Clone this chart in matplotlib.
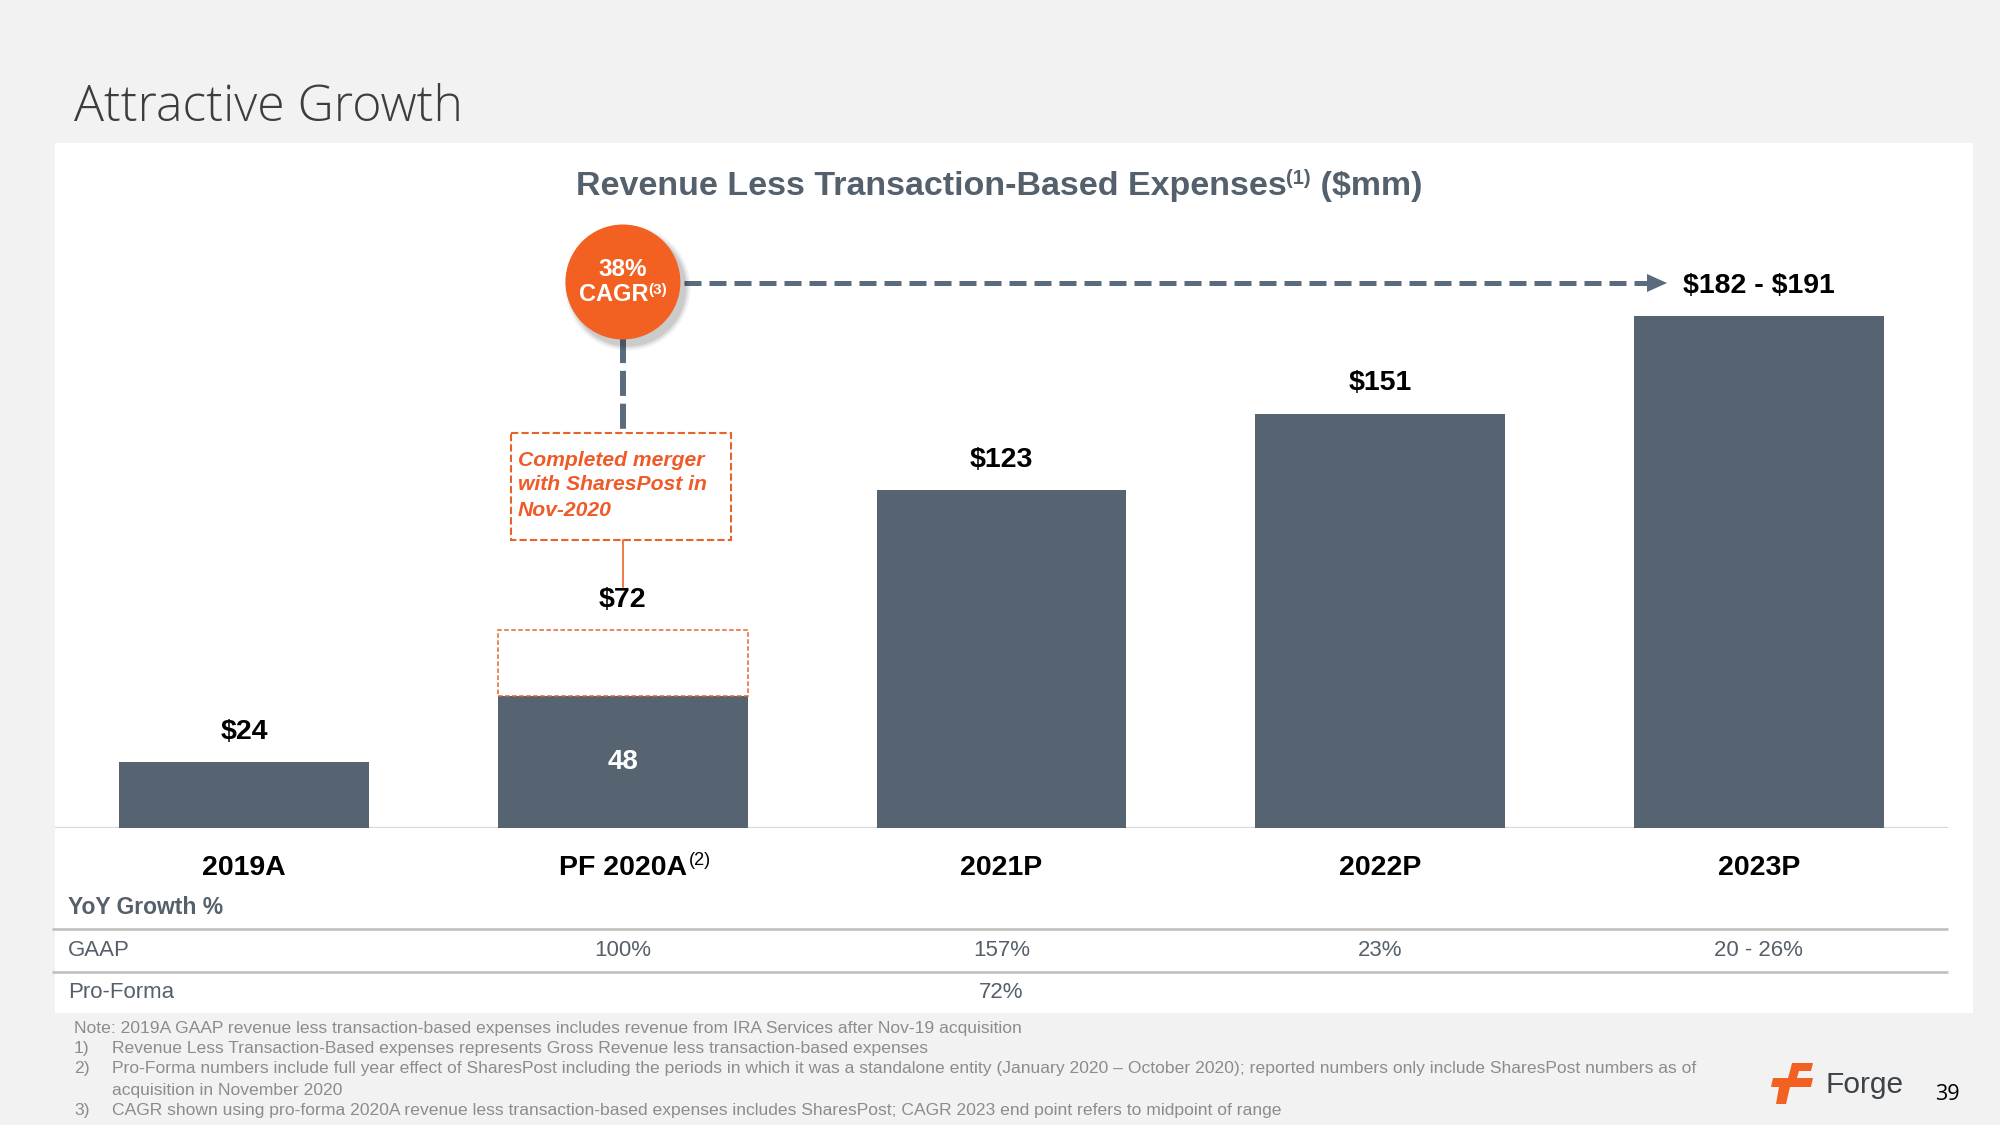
import matplotlib
matplotlib.use('Agg')
import matplotlib.pyplot as plt
from matplotlib.patches import Rectangle, Circle, Polygon

# ---------------- data ----------------
categories = ['2019A', 'PF 2020A', '2021P', '2022P', '2023P']
category_sup = ['', '(2)', '', '', '']
base_values = [24, 48, 123, 151, 186.5]      # 2023P drawn at midpoint of $182 - $191
sharespost_add = [0, 24, 0, 0, 0]            # PF 2020A: 48 + 24 = 72
value_labels = ['$24', '$72', '$123', '$151', '$182 - $191']
inner_labels = ['', '48', '', '', '']
gaap_growth = ['', '100%', '157%', '23%', '20 - 26%']
proforma_growth = ['', '', '72%', '', '']
cagr_label = '38%'
footnotes = [
    ('', 'Note: 2019A GAAP revenue less transaction-based expenses includes revenue from IRA Services after Nov-19 acquisition'),
    ('1)', 'Revenue Less Transaction-Based expenses represents Gross Revenue less transaction-based expenses'),
    ('2)', 'Pro-Forma numbers include full year effect of SharesPost including the periods in which it was a standalone entity (January 2020 \u2013 October 2020); reported numbers only include SharesPost numbers as of'),
    ('', 'acquisition in November 2020'),
    ('3)', 'CAGR shown using pro-forma 2020A revenue less transaction-based expenses includes SharesPost; CAGR 2023 end point refers to midpoint of range'),
]

# ---------------- style ----------------
FONT = 'Liberation Sans'
BAR = '#566471'
ORANGE = '#f26122'
BOX_ORANGE = '#e8632b'
SLATE = '#54606c'
ARROW = '#5b6b7f'
TABLE = '#56606b'
NOTE = '#8c8c8c'
plt.rcParams['font.family'] = [FONT, 'DejaVu Sans']
plt.rcParams['text.parse_math'] = False

fig = plt.figure(figsize=(20, 11.25), dpi=100)
fig.patch.set_facecolor('#f2f2f2')

# overlay in pixel coordinates (y downwards)
ov = fig.add_axes([0, 0, 1, 1])
ov.set_xlim(0, 2000)
ov.set_ylim(1125, 0)
ov.axis('off')
ov.set_zorder(0)
ov.add_patch(Rectangle((55, 143), 1918, 870, facecolor='white', edgecolor='none', zorder=0))

# bar axes
PX_PER_UNIT = 2.745
ax = fig.add_axes([55 / 2000, (1125 - 828) / 1125, 1893 / 2000, 685 / 1125])
ax.set_zorder(1)
ax.patch.set_alpha(0)
ax.set_xlim(-0.5, 4.5)
ax.set_ylim(0, 685 / PX_PER_UNIT)
ax.axis('off')

xs = list(range(len(categories)))
BW = 0.66
ax.bar(xs, base_values, width=BW, color=BAR, zorder=2)
for i, (b, a) in enumerate(zip(base_values, sharespost_add)):
    if a > 0:
        ax.bar(i, a, bottom=b, width=BW, facecolor='white', edgecolor=BOX_ORANGE,
               linewidth=1.1, linestyle=(0, (3, 1.6)), zorder=2)
ax.axhline(0, color='#d6d6d6', lw=1.6, zorder=1)

tops = [b + a for b, a in zip(base_values, sharespost_add)]
for i, lab in enumerate(value_labels):
    ax.annotate(lab, (i, tops[i]), xytext=(0, 22), textcoords='offset points',
                ha='center', va='center', fontsize=20.5, fontweight='bold', color='black',
                zorder=5, parse_math=False)
for i, lab in enumerate(inner_labels):
    if lab:
        ax.text(i, base_values[i] / 2, lab, ha='center', va='center', fontsize=20,
                fontweight='bold', color='white', zorder=5)

renderer = fig.canvas.get_renderer()


def px_of(i):
    return ov.transData.inverted().transform(ax.transData.transform((i, 0)))[0]


def text_width(t):
    return t.get_window_extent(renderer).width


def runs_at(x, y, runs, ha='center'):
    texts = []
    for s, props, dy in runs:
        t = ov.text(0, y + dy, s, va='baseline', ha='left', parse_math=False, **props)
        texts.append(t)
    widths = [text_width(t) for t in texts]
    start = x - sum(widths) / 2 if ha == 'center' else x
    for t, w in zip(texts, widths):
        t.set_x(start)
        start += w
    return texts


# ---------------- titles ----------------
ov.text(74, 121, 'Attractive Growth', fontsize=36, color='#3d3d3d', va='baseline',
        family=['Open Sans', 'DejaVu Sans'], fontweight='light')

runs_at(999, 195, [
    ('Revenue Less Transaction-Based Expenses', dict(fontsize=24.5, fontweight='bold', color=SLATE), 0),
    ('(1)', dict(fontsize=14.5, fontweight='bold', color=SLATE), -11),
    (' ($mm)', dict(fontsize=24.5, fontweight='bold', color=SLATE), 0),
])

# ---------------- category labels ----------------
for i, (cat, sup) in enumerate(zip(categories, category_sup)):
    cx = px_of(i)
    t = ov.text(cx, 875, cat, ha='center', va='baseline', fontsize=20.5, fontweight='bold', color='black')
    if sup:
        w = text_width(t)
        ov.text(cx + w / 2 + 2, 865, sup, ha='left', va='baseline', fontsize=13, color='black')

# ---------------- growth table ----------------
ov.text(68, 908, 'YoY Growth %', ha='left', va='center', fontsize=16.5, fontweight='bold', color=TABLE)
for yy in (929, 972):
    ov.plot([52, 1948], [yy, yy], color='#c0c0c0', lw=1.9, solid_capstyle='butt')
ov.text(68, 950, 'GAAP', ha='left', va='center', fontsize=16, color=TABLE)
ov.text(68, 993, 'Pro-Forma', ha='left', va='center', fontsize=16, color=TABLE)
for i, (g, p) in enumerate(zip(gaap_growth, proforma_growth)):
    cx = px_of(i)
    if g:
        ov.text(cx, 950, g, ha='center', va='center', fontsize=16, color=TABLE)
    if p:
        ov.text(cx, 993, p, ha='center', va='center', fontsize=16, color=TABLE)

# ---------------- CAGR bubble and arrows ----------------
cx1 = px_of(1)
ov.plot([cx1, cx1], [338, 433], color=ARROW, lw=4.3, linestyle=(0, (4.2, 1.3)), solid_capstyle='butt', zorder=2)
ov.plot([684, 1650], [283, 283], color=ARROW, lw=3.6, linestyle=(0, (3.4, 1.6)), zorder=2)
ov.add_patch(Polygon([(1647, 274), (1667, 283), (1647, 292)], closed=True, facecolor=ARROW, edgecolor='none', zorder=2))

for dr, al in [(5, 0.05), (3, 0.07), (1, 0.09)]:
    ov.add_patch(Circle((cx1 + 5, 288), 57.5 + dr, facecolor='black', edgecolor='none', alpha=al, zorder=3))
ov.add_patch(Circle((cx1, 282), 57.5, facecolor=ORANGE, edgecolor='none', zorder=4))
ov.text(cx1, 276, cagr_label, ha='center', va='baseline', fontsize=17.5, fontweight='bold', color='white', zorder=5)
for t in runs_at(cx1, 301, [
    ('CAGR', dict(fontsize=17, fontweight='bold', color='white'), 0),
    ('(3)', dict(fontsize=11, fontweight='bold', color='white'), -7),
]):
    t.set_zorder(5)

# merger callout box
ov.add_patch(Rectangle((511, 433), 220, 107, facecolor='white', edgecolor=BOX_ORANGE, lw=1.5,
                       linestyle=(0, (3.5, 1.5)), zorder=3))
for k, line in enumerate(['Completed merger', 'with SharesPost in', 'Nov-2020']):
    ov.text(518, 460 + k * 25, line, ha='left', va='center', fontsize=15.2, fontweight='bold',
            fontstyle='italic', color='#f05a28', zorder=5)
ov.plot([cx1, cx1], [540, 587], color=BOX_ORANGE, lw=1.2, zorder=3)

# ---------------- footnotes ----------------
ys = [1028, 1048, 1069, 1091, 1110]
for (num, txt), yy in zip(footnotes, ys):
    if txt.startswith('Note'):
        ov.text(74, yy, txt, ha='left', va='center', fontsize=12.6, color=NOTE)
    else:
        if num:
            ov.text(74, yy, num, ha='left', va='center', fontsize=12.6, color=NOTE)
        ov.text(112, yy, txt, ha='left', va='center', fontsize=12.6, color=NOTE)

# ---------------- logo + page number ----------------
logo = [(1792, 1063), (1813, 1063), (1811, 1071), (1799, 1071), (1797, 1078), (1813, 1078),
        (1811, 1087), (1790, 1087), (1786, 1104), (1776, 1104), (1779, 1087), (1771, 1087),
        (1773, 1078), (1788, 1078), (1790, 1071)]
ov.add_patch(Polygon(logo, closed=True, facecolor='#f26122', edgecolor='none', zorder=3))
ov.text(1825, 1093, 'Forge', ha='left', va='baseline', fontsize=21.5, color='#3d4349')
ov.text(1947, 1100, '39', ha='center', va='baseline', fontsize=15.5, color='black',
        family=['Open Sans', 'DejaVu Sans'])

fig.savefig('out.png', dpi=100, facecolor=fig.get_facecolor())
